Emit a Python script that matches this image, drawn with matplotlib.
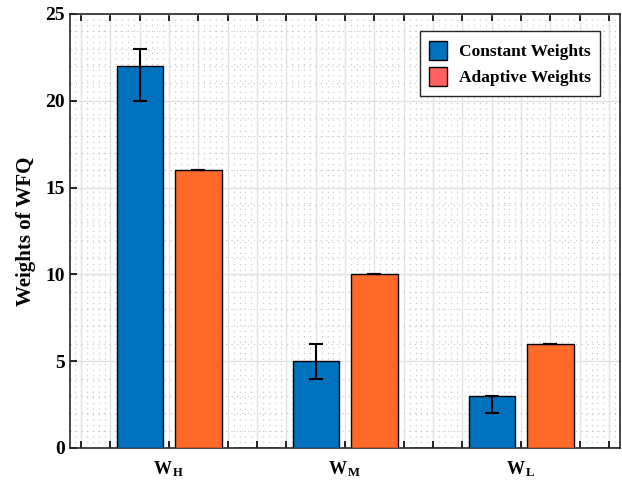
import matplotlib
matplotlib.use("Agg")
import matplotlib.pyplot as plt
import numpy as np
from matplotlib.patches import Patch
from matplotlib.ticker import MultipleLocator

plt.rcParams['font.family'] = ['Liberation Serif', 'DejaVu Serif']
plt.rcParams['mathtext.fontset'] = 'custom'
plt.rcParams['mathtext.rm'] = 'Liberation Serif:bold'
plt.rcParams['mathtext.bf'] = 'Liberation Serif:bold'
plt.rcParams['mathtext.it'] = 'Liberation Serif:bold'

categories = [r'$\mathbf{W_{\,H}}$', r'$\mathbf{W_{\,M}}$', r'$\mathbf{W_{\,L}}$']
constant = [22, 5, 3]
constant_err_low = [2, 1, 1]
constant_err_high = [1, 1, 0]
adaptive = [16, 10, 6]
adaptive_err = [0, 0, 0]
third = [0, 0, 0]
series_names = ['Constant Weights', 'Adaptive Weights']

blue = '#0072BD'
orange = '#FF6A2A'
legend_red = '#FF6060'

fig = plt.figure(figsize=(6.22, 4.80), dpi=100)
ax = fig.add_axes([70/622, 32/480, 550/622, 434/480])

x = np.arange(1, len(categories) + 1)
pitch = 1/3
w = 0.262
ax.bar(x - pitch, constant, width=w, color=blue, edgecolor='black', linewidth=1.0, zorder=3)
ax.bar(x, adaptive, width=w, color=orange, edgecolor='black', linewidth=1.0, zorder=3)
ax.bar(x + pitch, third, width=w, color='#EDB120', edgecolor='black', linewidth=1.0, zorder=3)
ax.errorbar(x - pitch, constant, yerr=[constant_err_low, constant_err_high], fmt='none',
            ecolor='black', elinewidth=1.5, capsize=5, capthick=1.5, zorder=4)
ax.errorbar(x, adaptive, yerr=adaptive_err, fmt='none',
            ecolor='black', elinewidth=1.5, capsize=5, capthick=1.5, zorder=4)

ax.set_xlim(0.27, 3.395)
ax.set_ylim(0, 25)

major_x = np.arange(0, 21) / 6
major_x = major_x[(major_x >= 0.27) & (major_x <= 3.395)]
ax.set_xticks(major_x)
labels = []
label_pos = x - 1/6
for v in major_x:
    idx = np.where(np.isclose(label_pos, v))[0]
    labels.append(categories[idx[0]] if len(idx) else '')
ax.set_xticklabels(labels, fontsize=13)
ax.xaxis.set_minor_locator(MultipleLocator(1/30))
ax.set_yticks([0, 5, 10, 15, 20, 25])
ax.yaxis.set_minor_locator(MultipleLocator(1))
for t in ax.get_yticklabels():
    t.set_fontweight('bold')
    t.set_fontsize(14)

ax.tick_params(axis='both', which='major', direction='in', length=5, width=1.2,
               top=True, right=False)
ax.tick_params(axis='both', which='minor', length=0)
ax.tick_params(axis='x', pad=8)

ax.grid(True, which='major', color='#E2E2E2', linewidth=1.0, linestyle='-', zorder=0)
ax.grid(True, which='minor', color='#C4C4C4', linewidth=0.8, linestyle=(0, (1, 4)), zorder=0)
ax.set_axisbelow(True)

for s in ax.spines.values():
    s.set_linewidth(1.2)
    s.set_color('#262626')

ax.set_ylabel('Weights of WFQ', fontsize=15, fontweight='bold', labelpad=7)

handles = [Patch(facecolor=blue, edgecolor='black', label=series_names[0]),
           Patch(facecolor=legend_red, edgecolor='black', label=series_names[1])]
leg = ax.legend(handles=handles, loc='upper right', bbox_to_anchor=(0.98, 0.98),
                prop={'family': 'Liberation Serif', 'weight': 'bold', 'size': 12.5},
                frameon=True, fancybox=False, edgecolor='#262626', framealpha=1,
                handlelength=1.0, handleheight=1.3, borderpad=0.55, labelspacing=0.4,
                handletextpad=0.7)
leg.get_frame().set_linewidth(1.0)

fig.savefig('out.png', dpi=100)
